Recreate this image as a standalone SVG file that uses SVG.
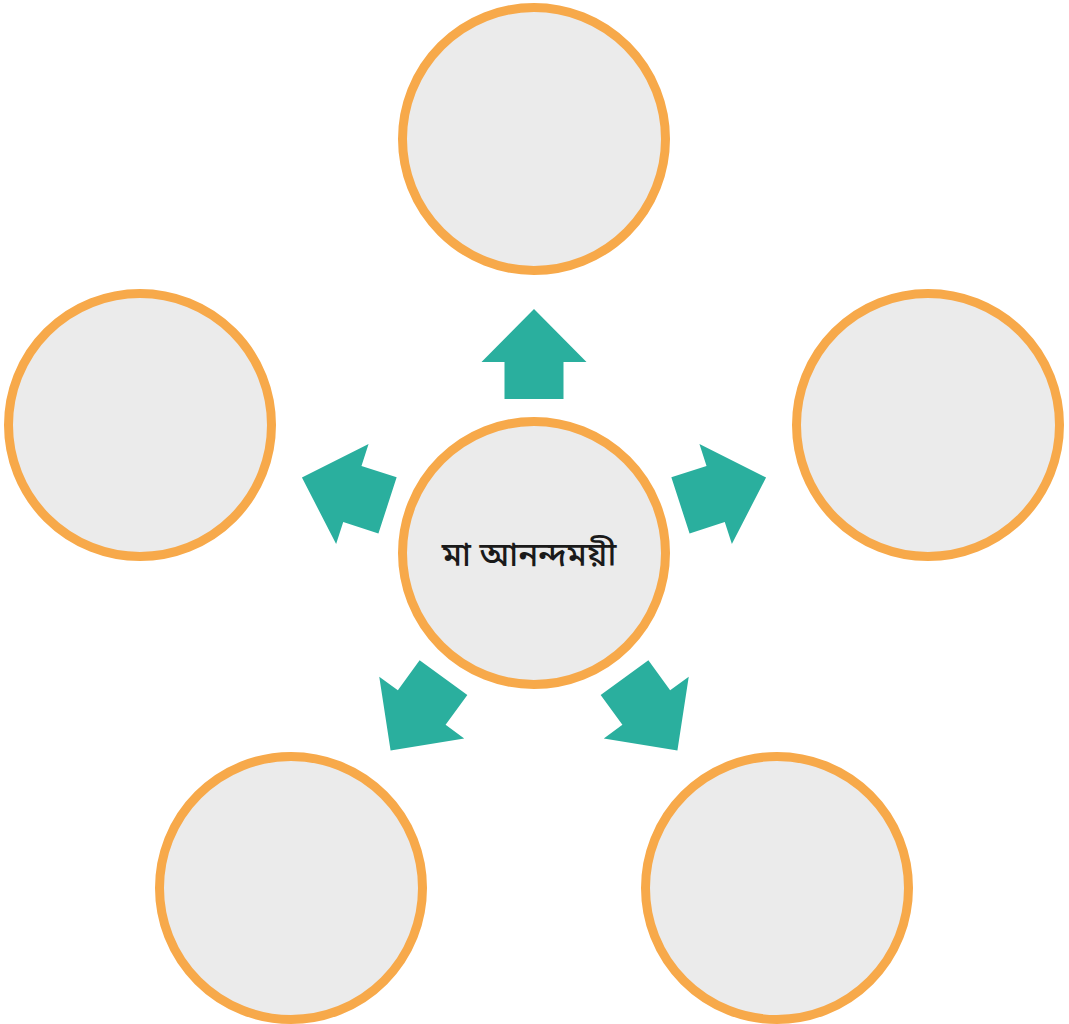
<svg xmlns="http://www.w3.org/2000/svg" width="1069" height="1024" viewBox="0 0 1069 1024">
  <style>
    .node circle { fill: #ebebeb; stroke: #f7a94a; stroke-width: 9; }
    .arrow { fill: #2aaf9e; }
    .label { font-family: "Noto Sans Bengali", "Noto Serif Bengali", "Lohit Bengali", "Noto Sans", sans-serif; font-size: 33px; font-weight: 500; fill: #1a1a1a; text-anchor: middle; }
  </style>
  <defs>
    <polygon id="arr" points="0,-244 52.5,-191 29.5,-191 29.5,-154 -29.5,-154 -29.5,-191 -52.5,-191"/>
  </defs>
  <g id="connectors">
    <use href="#arr" class="arrow" transform="translate(534 553) rotate(0)"/>
    <use href="#arr" class="arrow" transform="translate(534 553) rotate(72)"/>
    <use href="#arr" class="arrow" transform="translate(534 553) rotate(144)"/>
    <use href="#arr" class="arrow" transform="translate(534 553) rotate(216)"/>
    <use href="#arr" class="arrow" transform="translate(534 553) rotate(288)"/>
  </g>
  <g id="center" class="node">
    <circle cx="534" cy="553" r="131.5"/>
    <text class="label" x="529" y="566">মা আনন্দময়ী</text>
  </g>
  <g id="top" class="node"><circle cx="534" cy="139" r="131.5"/></g>
  <g id="right" class="node"><circle cx="928" cy="425" r="131.5"/></g>
  <g id="bottom-right" class="node"><circle cx="777" cy="888" r="131.5"/></g>
  <g id="bottom-left" class="node"><circle cx="291" cy="888" r="131.5"/></g>
  <g id="left" class="node"><circle cx="140" cy="425" r="131.5"/></g>
</svg>
